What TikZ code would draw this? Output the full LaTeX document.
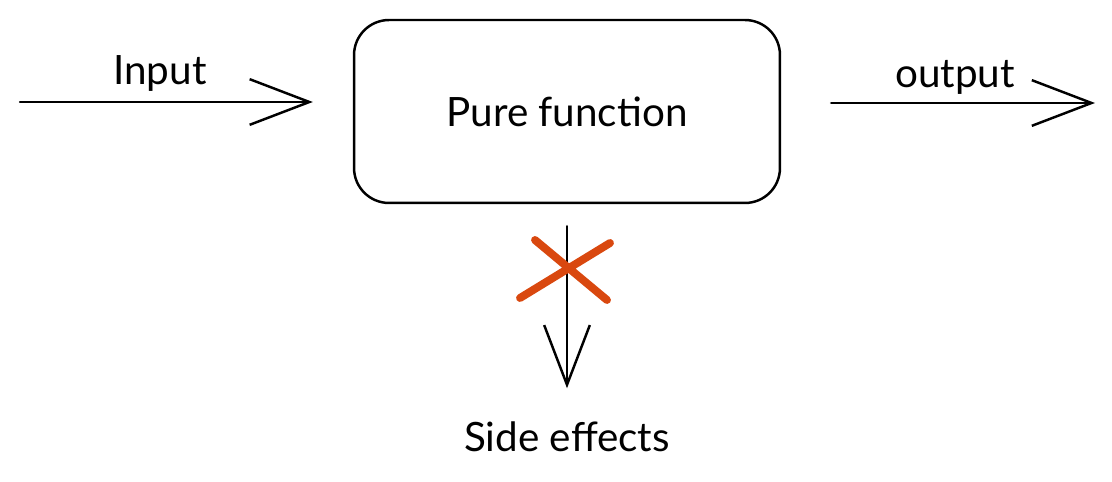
\documentclass[tikz,border=0pt]{standalone}
\usepackage{fontspec}
\setmainfont{Lato}
\usetikzlibrary{arrows.meta}
\definecolor{crossred}{HTML}{D9480F}
\tikzset{
  every picture/.style={line join=round, line cap=round, >={Straight Barb[length=34pt,width=26pt]}},
  sketch/.style={line width=1.4pt},
  hand/.style={font=\fontsize{23}{27}\selectfont},
}

\begin{document}
\begin{tikzpicture}[x=0.02cm,y=-0.02cm]
\useasboundingbox (0,0) rectangle (1112,482);
\node[draw,sketch,hand,rounded corners=0.7cm,minimum width=8.52cm,minimum height=3.66cm] (pure) at (567,111.5) {Pure function};
\coordinate (in) at (20,102);
\coordinate (out) at (1095,103);
\node[hand] (side) at (567,437) {Side effects};
\node[hand] (inlabel) at (160,73) {Input};
\node[hand] (outlabel) at (955,77) {output};
\draw[sketch,->,shorten >=0.8cm] (in) -- (in -| pure.west);
\draw[sketch,->,shorten <=1cm] (out -| pure.east) -- (out);
\draw[sketch,->,shorten <=0.44cm,shorten >=0.55cm] (pure.south) -- (side.north);
\draw[crossred,line width=4.5pt] (520,298) -- (610,243)
(535,240) -- (607,300);
\end{tikzpicture}
\end{document}
